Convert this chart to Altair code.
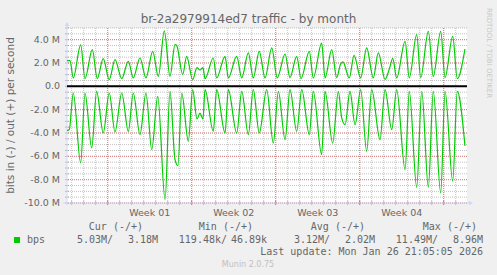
import altair as alt
import pandas as pd

# ---------------- data (Mbit/s, x = days from start of "Week 01") ----------------
out_day = [-3.39, -3.14, -2.87, -2.25, -1.89, -1.28, -0.87, -0.37, 0.13, 0.61, 1.17, 1.72,
           2.13, 2.69, 3.19, 3.75, 4.22, 4.72, 5.19, 5.61, 5.75, 6.25, 6.58, 7.08, 7.44,
           7.69, 7.94, 8.11, 8.8, 9.08, 9.78, 10.05, 10.75, 11.17, 11.72, 12.13, 12.63,
           13.11, 13.67, 14.13, 14.78, 15.19, 15.75, 16.11, 16.8, 17.13, 17.83, 18.11,
           18.67, 19.08, 19.4, 19.6, 20.13, 20.53, 21.08, 21.58, 22.13, 22.55, 23.11,
           23.5, 23.75, 24.08, 24.78, 25.13, 25.75, 26.08, 26.72, 27.13, 27.75, 28.11,
           28.75, 29.13, 29.77]
out_mbps = [2.2, 2.2, 0.72, 3.55, 0.66, 3.14, 0.66, 2.37, 0.57, 2.29, 0.66, 2.14,
            0.72, 2.43, 0.72, 3.0, 0.86, 4.75, 0.86, 3.57, 3.5, 1.0, 2.57, 0.57, 1.6,
            1.4, 1.6, 0.66, 2.43, 0.72, 2.57, 0.72, 2.57, 0.72, 2.86, 0.72, 3.0,
            0.72, 3.3, 0.72, 2.77, 0.75, 2.57, 0.66, 3.0, 0.72, 3.71, 0.72,
            3.14, 0.75, 1.9, 2.1, 0.72, 2.66, 0.72, 3.29, 0.72, 2.86, 0.6,
            1.6, 2.4, 0.72, 3.86, 0.72, 4.43, 0.75, 4.71, 0.86, 4.71, 0.75,
            4.29, 0.66, 3.2]

in_day = [-3.39, -3.2, -2.87, -2.25, -1.89, -1.33, -0.92, -0.37, 0.13, 0.61, 1.17, 1.72,
          2.13, 2.69, 3.19, 3.67, 4.17, 4.78, 5.19, 5.61, 5.86, 6.17, 6.72, 7.08, 7.44,
          7.69, 7.94, 8.11, 8.8, 9.08, 9.78, 10.05, 10.75, 11.17, 11.72, 12.13, 12.63,
          13.25, 13.8, 14.22, 14.78, 15.19, 15.75, 16.17, 16.8, 17.13, 17.83, 18.11,
          18.75, 19.22, 19.5, 19.78, 20.19, 20.61, 21.08, 21.58, 22.0, 22.69, 23.11,
          23.67, 24.08, 24.78, 25.13, 25.75, 26.17, 26.72, 27.13, 27.75, 28.11, 28.75,
          29.13, 29.77]
in_mbps = [-3.8, -3.7, -0.57, -6.57, -0.57, -5.28, -0.43, -4.0, -0.57, -3.91, -0.57, -3.86,
           -0.57, -4.14, -0.57, -5.43, -0.86, -9.71, -0.43, -6.28, -6.8, -0.57, -4.71, -0.29, -2.8,
           -2.3, -2.8, -0.29, -3.86, -0.29, -4.0, -0.29, -4.0, -0.43, -4.14, -0.29, -4.0,
           -0.29, -4.86, -0.43, -4.57, -0.29, -3.86, -0.29, -4.14, -0.43, -5.86, -0.43,
           -4.86, -0.43, -2.71, -3.29, -0.43, -3.29, -0.29, -5.57, -0.29, -4.57, -0.29,
           -3.71, -0.29, -7.14, -0.43, -8.66, -0.43, -8.66, -0.43, -9.14, -0.43, -8.14,
           -0.43, -5.1]

y_major = [-10, -8, -6, -4, -2, 0, 2, 4]
y_labels = ["-10.0 M", "-8.0 M", "-6.0 M", "-4.0 M", "-2.0 M", "0.0", "2.0 M", "4.0 M"]
y_minor = [v / 2 for v in range(-20, 11)]
day_ticks = list(range(-3, 30))
week_ticks = [0, 7, 14, 21, 28]
week_pos = [3.5, 10.5, 17.5, 24.5]
week_labels = ["Week 01", "Week 02", "Week 03", "Week 04"]

title_text = "br-2a2979914ed7 traffic - by month"
y_title = "bits in (-) / out (+) per second"
legend_name = "bps"
legend_headers = ["Cur (-/+)", "Min (-/+)", "Avg (-/+)", "Max (-/+)"]
legend_in = ["5.03M/", "119.48k/", "3.12M/", "11.49M/"]
legend_out = ["3.18M", "46.89k", "2.02M", "8.96M"]
last_update = "Last update: Mon Jan 26 21:05:05 2026"
footer = "Munin 2.0.75"
watermark = "RRDTOOL / TOBI OETIKER"

# ---------------- layout ----------------
W, H = 400, 175
PL, PT = 67, 28
FONT = "DejaVu Sans"
MONO = "DejaVu Sans Mono"
TXT = "#666666"
GREEN = "#00CC00"
AXIS = "#CFD6F8"

xs = alt.Scale(domain=[-3.39, 29.94], nice=False, zero=False)
ys = alt.Scale(domain=[-10, 5], nice=False, zero=False)


def rx(a):
    return a - PL


def ry(a):
    return a - PT


one = pd.DataFrame({"k": [0]})


def text(s, x, y, size, color=TXT, font=FONT, align="left", angle=0, baseline="alphabetic"):
    return alt.Chart(one).mark_text(
        text=s, fontSize=size, font=font, color=color, align=align,
        baseline=baseline, angle=angle
    ).encode(x=alt.value(rx(x)), y=alt.value(ry(y)))


def X(f):
    return alt.X(f, type="quantitative", scale=xs, axis=None)


def Y(f):
    return alt.Y(f, type="quantitative", scale=ys, axis=None)


df_ymin = pd.DataFrame({"v": y_minor})
df_ymaj = pd.DataFrame({"v": y_major, "lab": y_labels})
df_days = pd.DataFrame({"d": day_ticks})
df_weeks = pd.DataFrame({"d": week_ticks})
df_wlab = pd.DataFrame({"d": week_pos, "lab": week_labels})
df_zero = pd.DataFrame({"v": [0.0]})
df_out = pd.DataFrame({"day": out_day, "mbps": out_mbps})
df_in = pd.DataFrame({"day": in_day, "mbps": in_mbps})

GRID = dict(color="#8F8F8F", opacity=0.55, strokeDash=[1, 1], strokeWidth=1)
MGRID = dict(color="#DE4F4F", opacity=0.6, strokeDash=[1, 1], strokeWidth=1)

layers = [
    alt.Chart(df_ymin).mark_rule(**GRID).encode(y=Y("v")),
    alt.Chart(df_days).mark_rule(**GRID).encode(x=X("d")),
    alt.Chart(df_ymaj).mark_rule(**MGRID).encode(y=Y("v")),
    alt.Chart(df_weeks).mark_rule(**MGRID).encode(x=X("d")),
    # ticks
    alt.Chart(df_days).mark_rule(color="#8F8F8F", opacity=0.6).encode(
        x=X("d"), y=alt.value(H - 2), y2=alt.value(H + 2)),
    alt.Chart(df_weeks).mark_rule(color="#DE4F4F", opacity=0.7).encode(
        x=X("d"), y=alt.value(H - 2), y2=alt.value(H + 2)),
    alt.Chart(df_ymin).mark_rule(color="#8F8F8F", opacity=0.6).encode(
        y=Y("v"), x=alt.value(-2), x2=alt.value(2)),
    # axis lines + arrows
    alt.Chart(one).mark_rule(color=AXIS, strokeWidth=1).encode(
        x=alt.value(0), y=alt.value(ry(23)), y2=alt.value(H + 2)),
    alt.Chart(one).mark_rule(color=AXIS, strokeWidth=1).encode(
        x=alt.value(rx(63)), x2=alt.value(rx(470)), y=alt.value(H)),
    alt.Chart(one).mark_point(shape="triangle-up", filled=True, size=22, color=AXIS, opacity=1).encode(
        x=alt.value(0), y=alt.value(ry(24))),
    alt.Chart(one).mark_point(shape="triangle-right", filled=True, size=22, color=AXIS, opacity=1).encode(
        x=alt.value(rx(471)), y=alt.value(H)),
    # zero line
    alt.Chart(df_zero).mark_rule(color="#000000", strokeWidth=2).encode(y=Y("v")),
    # data
    alt.Chart(df_out).mark_line(color=GREEN, strokeWidth=1.2, interpolate="monotone", clip=True).encode(
        x=X("day"), y=Y("mbps")),
    alt.Chart(df_in).mark_line(color=GREEN, strokeWidth=1.2, interpolate="monotone", clip=True).encode(
        x=X("day"), y=Y("mbps")),
    # axis labels
    alt.Chart(df_ymaj).mark_text(align="right", baseline="middle", fontSize=9.5, font=FONT, color=TXT).encode(
        y=Y("v"), x=alt.value(-7), text="lab:N"),
    alt.Chart(df_wlab).mark_text(align="center", baseline="alphabetic", fontSize=9.5, font=FONT, color=TXT).encode(
        x=X("d"), y=alt.value(ry(216)), text="lab:N"),
    # titles
    text(title_text, 248.5, 22.5, 12, align="center"),
    text(y_title, 11, 115.5, 10.5, align="center", angle=270, baseline="middle"),
    text(watermark, 489, 53, 7, color="#C8C8C8", align="center", angle=90, baseline="middle"),
    # legend
    alt.Chart(one).mark_rect(color=GREEN).encode(
        x=alt.value(rx(14)), x2=alt.value(rx(20)), y=alt.value(ry(237)), y2=alt.value(ry(243))),
    text(legend_name, 27, 243.3, 10, font=MONO),
    text(last_update, 483, 255, 10, font=MONO, align="right"),
    text(footer, 248, 266.7, 8, color="#C0C0C0", align="center"),
]

hdr_right = [143, 253, 365, 477]
in_right = [113, 227, 330, 438]
out_right = [158, 267, 375, 483]
for i in range(4):
    layers.append(text(legend_headers[i], hdr_right[i], 230, 10, font=MONO, align="right"))
    layers.append(text(legend_in[i], in_right[i], 243.3, 10, font=MONO, align="right"))
    layers.append(text(legend_out[i], out_right[i], 243.3, 10, font=MONO, align="right"))

chart = alt.layer(*layers).properties(
    width=W, height=H,
    background="#F0F0F0",
    padding={"left": PL, "top": PT, "right": 497 - PL - W, "bottom": 275 - PT - H},
    autosize=alt.AutoSizeParams(type="none"),
).configure_view(stroke=None, fill="white")

chart.save("out.html", embed_options={"renderer": "svg", "actions": False})
